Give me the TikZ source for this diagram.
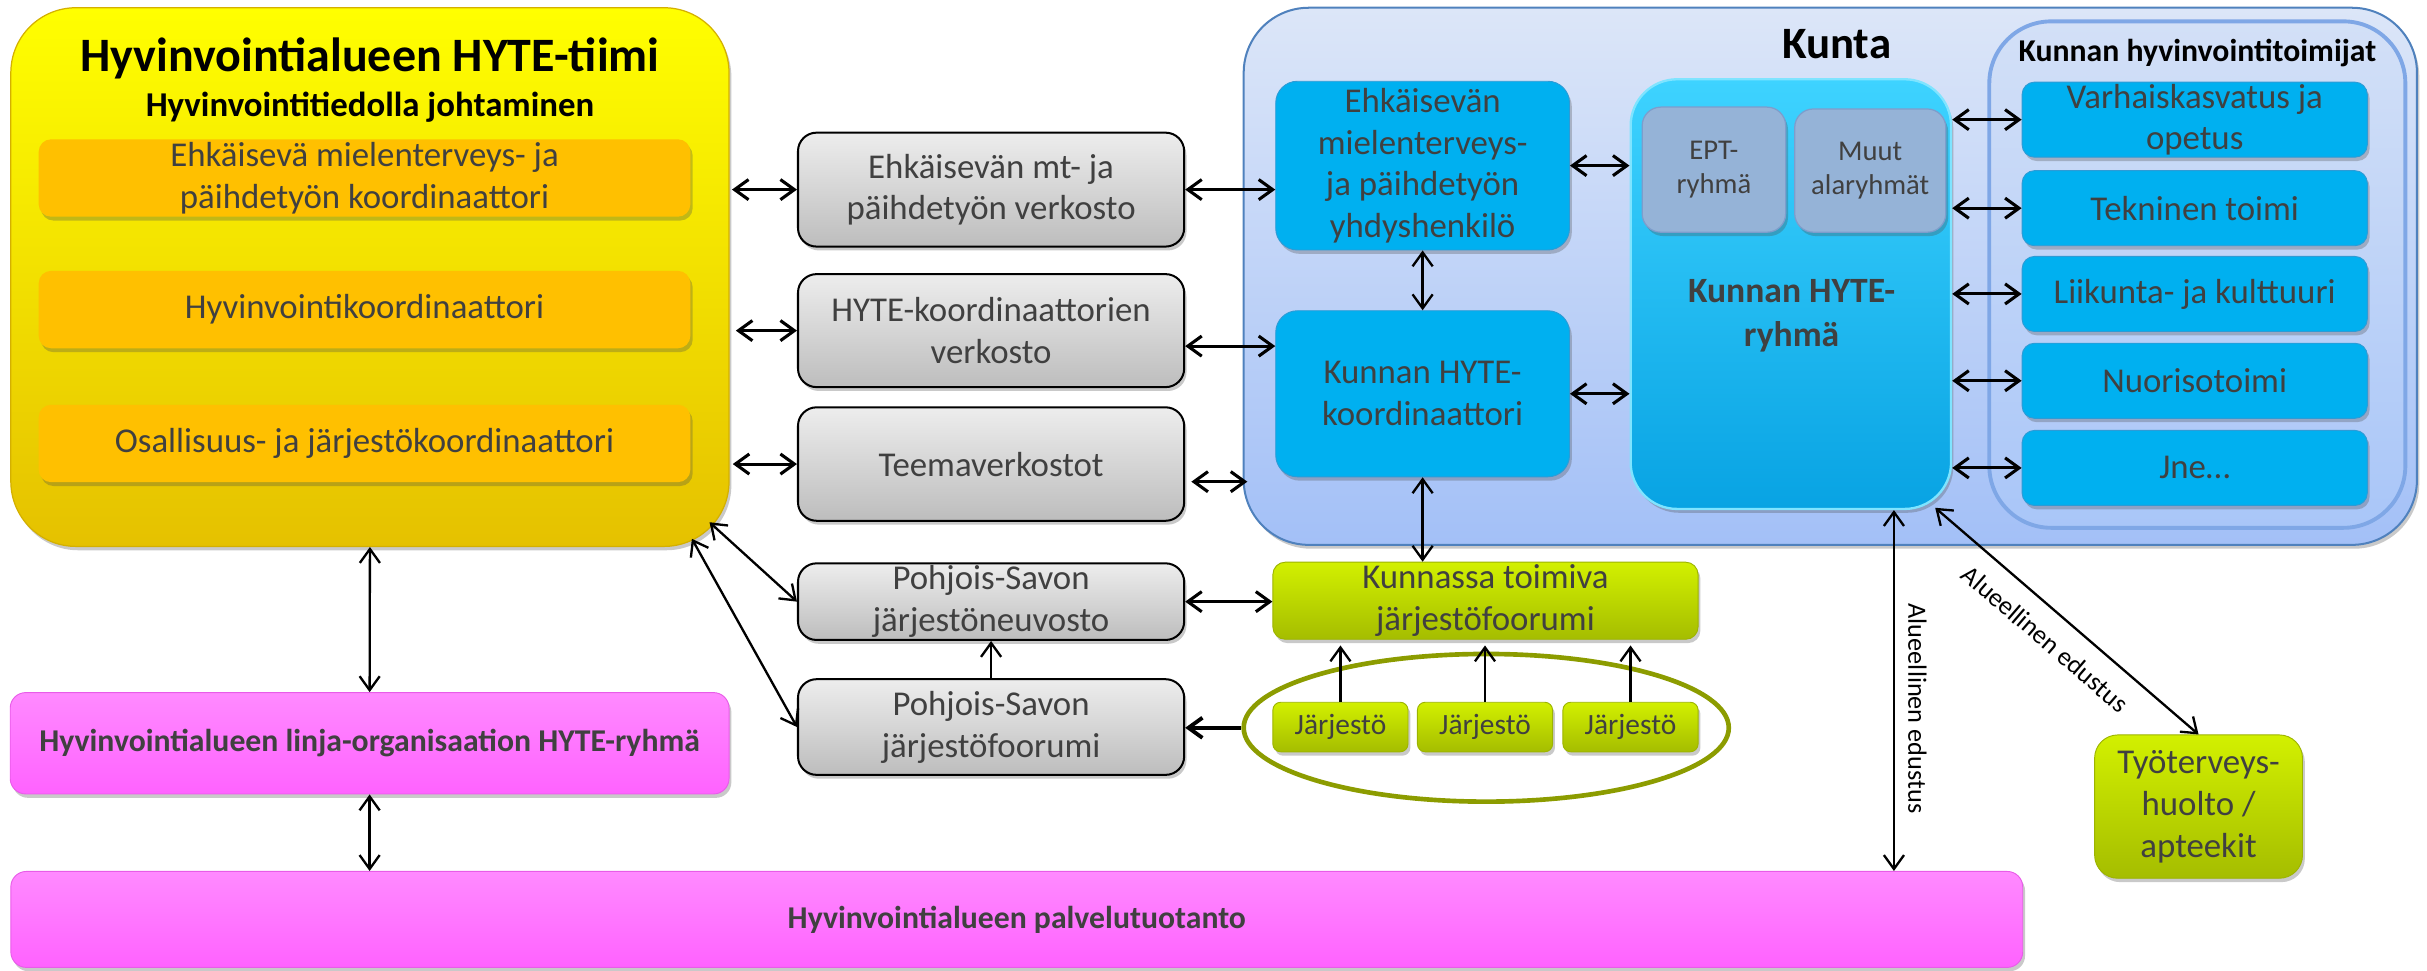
\documentclass[tikz,border=0pt]{standalone}
\usepackage{fontspec}
\setmainfont{Carlito}
\usetikzlibrary{arrows.meta,shadows,calc,shapes.geometric}
\definecolor{txt}{HTML}{404040}
\definecolor{yelT}{HTML}{FFFF00}
\definecolor{yelB}{HTML}{E5C100}
\definecolor{yelD}{HTML}{D4B000}
\definecolor{orng}{HTML}{FFC000}
\definecolor{grT}{HTML}{EDEDED}
\definecolor{grB}{HTML}{BDBDBD}
\definecolor{kuT}{HTML}{DCE6F8}
\definecolor{kuB}{HTML}{A3C0F7}
\definecolor{kuD}{HTML}{4F81BD}
\definecolor{toT}{HTML}{D3E0F7}
\definecolor{toB}{HTML}{A9C6F8}
\definecolor{toD}{HTML}{7FA7E6}
\definecolor{cyanb}{HTML}{00B0F0}
\definecolor{cyanD}{HTML}{2D9BD6}
\definecolor{hrT}{HTML}{3ED3FF}
\definecolor{hrB}{HTML}{08A3E3}
\definecolor{hrD}{HTML}{7FE4FF}
\definecolor{ept}{HTML}{95B3D7}
\definecolor{eptD}{HTML}{7D9DCC}
\definecolor{lgT}{HTML}{D2F000}
\definecolor{lgB}{HTML}{A5BD00}
\definecolor{lgD}{HTML}{9DB400}
\definecolor{olive}{HTML}{8C9C00}
\definecolor{pinkT}{HTML}{FF8AFF}
\definecolor{pinkB}{HTML}{FF62FF}
\definecolor{pinkD}{HTML}{E85CE8}
\begin{document}
\begin{tikzpicture}[x=1pt,y=-1pt,
  >={Straight Barb[length=9pt,width=13pt]},
  every node/.style={inner sep=0pt},
  bodyfont/.style={font=\fontsize{22.5}{27}\selectfont},
  shad/.style={drop shadow={shadow xshift=1.5pt,shadow yshift=-2.5pt,opacity=0.3,fill=black!70}},
  ybox/.style={rounded corners=42pt, top color=yelT, bottom color=yelB, draw=yelD, line width=0.8pt, shad},
  obox/.style={rounded corners=8pt, fill=orng, shad, bodyfont, text=txt, align=center, minimum width=421pt, minimum height=50pt},
  gbox/.style={rounded corners=12pt, top color=grT, bottom color=grB, draw=black, line width=1.3pt, shad, bodyfont, text=txt, align=center, minimum width=249.5pt},
  kbox/.style={rounded corners=42pt, top color=kuT, bottom color=kuB, draw=kuD, line width=1.3pt, shad},
  tbox/.style={rounded corners=40pt, top color=toT, bottom color=toB, draw=toD, line width=2.5pt},
  bbox/.style={rounded corners=14pt, fill=cyanb, draw=cyanD, line width=0.6pt, shad, bodyfont, text=txt, align=center},
  rbox/.style={rounded corners=8pt, fill=cyanb, draw=cyanD, line width=0.6pt, shad, bodyfont, text=txt, align=center, minimum width=223pt, minimum height=48.5pt},
  hbox/.style={rounded corners=30pt, top color=hrT, bottom color=hrB, draw=hrD, line width=1.5pt, shad},
  ebox/.style={rounded corners=12pt, fill=ept, draw=eptD, line width=0.8pt, shad, font=\fontsize{18.5}{22}\selectfont, text=txt, align=center},
  lbox/.style={rounded corners=8pt, top color=lgT, bottom color=lgB, draw=lgD, line width=0.6pt, shad, bodyfont, text=txt, align=center},
  jbox/.style={rounded corners=5pt, top color=lgT, bottom color=lgB, draw=lgD, line width=0.6pt, shad, font=\fontsize{19}{22}\selectfont, text=txt, minimum width=87.3pt, minimum height=32pt},
  pbox/.style={rounded corners=10pt, top color=pinkT, bottom color=pinkB, draw=pinkD, line width=0.6pt, shad, font=\fontsize{20.5}{24}\selectfont\bfseries, text=txt},
  lbl/.style={font=\fontsize{17}{20}\selectfont, text=black},
  arrA/.style={<->, line width=2pt},
  arrB/.style={<->, line width=1.5pt},
  arrC/.style={->, line width=1.5pt},
  arrD/.style={->, line width=2.5pt}
]
\useasboundingbox (0,0) rectangle (1568,627);

% ---- left yellow team ----
\node[ybox, minimum width=464pt, minimum height=348pt] (yb) at (239,179) {};
\node[font=\fontsize{31}{36}\selectfont\bfseries, anchor=base] (yt) at (239,46) {Hyvinvointialueen HYTE-tiimi};
\node[font=\fontsize{22.5}{27}\selectfont\bfseries, anchor=base] (ys) at (239,75) {Hyvinvointitiedolla johtaminen};
\node[obox] (o1) at (235.5,115) {Ehkäisevä mielenterveys- ja\\päihdetyön koordinaattori};
\node[obox] (o2) at (235.5,200) {Hyvinvointikoordinaattori};
\node[obox] (o3) at (235.5,286.5) {Osallisuus- ja järjestökoordinaattori};

% ---- grey networks ----
\node[gbox, minimum height=73.6pt] (g1) at (640.3,122.5) {Ehkäisevän mt- ja\\päihdetyön verkosto};
\node[gbox, minimum height=73pt] (g2) at (640.3,213.6) {HYTE-koordinaattorien\\verkosto};
\node[gbox, minimum height=73.3pt] (g3) at (640.3,299.8) {Teemaverkostot};
\node[gbox, minimum height=49.5pt] (g4) at (640.3,388.7) {Pohjois-Savon\\järjestöneuvosto};
\node[gbox, minimum height=61.8pt] (g5) at (640.3,469.7) {Pohjois-Savon\\järjestöfoorumi};

% ---- Kunta ----
\node[kbox, minimum width=758pt, minimum height=347pt] (kb) at (1182.5,178.5) {};
\node[font=\fontsize{29}{34}\selectfont\bfseries, anchor=base] (kt) at (1186.6,38) {Kunta};
\node[tbox, minimum width=268.8pt, minimum height=327.2pt] (tb) at (1419.6,177.4) {};
\node[font=\fontsize{20.5}{24}\selectfont\bfseries, anchor=base] (tt) at (1419.6,40) {Kunnan hyvinvointitoimijat};
\node[bbox, minimum width=189.8pt, minimum height=109pt] (b1) at (919.1,107) {Ehkäisevän\\mielenterveys-\\ja päihdetyön\\yhdyshenkilö};
\node[bbox, minimum width=189.8pt, minimum height=107.3pt] (b2) at (919.1,254.4) {Kunnan HYTE-\\koordinaattori};
\node[hbox, minimum width=207pt, minimum height=277.6pt] (hr) at (1157,190) {};
\node[font=\fontsize{23}{28}\selectfont\bfseries, text=txt, align=center] (hrt) at (1157.5,204) {Kunnan HYTE-\\ryhmä};
\node[ebox, minimum width=92.7pt, minimum height=80.8pt] (e1) at (1107.3,109.6) {EPT-\\ryhmä};
\node[ebox, minimum width=97.6pt, minimum height=79.6pt] (e2) at (1208.3,110.2) {Muut\\alaryhmät};
\node[rbox] (r1) at (1417.9,77.3) {Varhaiskasvatus ja\\opetus};
\node[rbox] (r2) at (1417.9,134.5) {Tekninen toimi};
\node[rbox] (r3) at (1417.9,189.9) {Liikunta- ja kulttuuri};
\node[rbox] (r4) at (1417.9,246) {Nuorisotoimi};
\node[rbox] (r5) at (1417.9,302.3) {Jne…};

% ---- organisations ----
\node[lbox, minimum width=274.7pt, minimum height=49.8pt] (kf) at (959.7,388.1) {Kunnassa toimiva\\järjestöfoorumi};
\node[ellipse, draw=olive, line width=3pt, minimum width=313.4pt, minimum height=95.4pt] (el) at (960.2,470.2) {};
\node[jbox] (j1) at (866,469.7) {Järjestö};
\node[jbox] (j2) at (959.4,469.7) {Järjestö};
\node[jbox] (j3) at (1053.4,469.7) {Järjestö};
\node[lbox, rounded corners=15pt, minimum width=134.3pt, minimum height=92.6pt] (ty) at (1420.4,521.1) {Työterveys-\\huolto /\\apteekit};

% ---- pink ----
\node[pbox, minimum width=464.4pt, minimum height=65.5pt] (p1) at (238.8,480.2) {Hyvinvointialueen linja-organisaation HYTE-ryhmä};
\node[pbox, minimum width=1299.8pt, minimum height=62pt] (p2) at (656.9,594) {Hyvinvointialueen palvelutuotanto};

% ---- connectors ----
\draw[arrA] ([xshift=1.5pt]yb.east |- g1.west) -- (g1.west);
\draw[arrA] ([xshift=4pt]yb.east |- g2.west) -- (g2.west);
\draw[arrA] ([xshift=2pt]yb.east |- g3.west) -- (g3.west);
\draw[arrA] (g1.east) -- (g1.east -| b1.west);
\draw[arrA] ($(g2.east)+(0,10)$) -- ($(g2.east -| b2.west)+(0,10)$);
\draw[arrA] ($(g3.east)+(4,11.4)$) -- ($(g3.east -| kb.west)+(3,11.4)$);
\draw[arrB] (b1.south) -- (b2.north);
\draw[arrB] (b2.south) -- (b2.south |- kf.north);
\draw[arrA] (b1.east) -- (b1.east -| hr.west);
\draw[arrA] (b2.east) -- (b2.east -| hr.west);
\draw[arrA] (hr.east |- r1.west) -- (r1.west);
\draw[arrA] (hr.east |- r2.west) -- (r2.west);
\draw[arrA] (hr.east |- r3.west) -- (r3.west);
\draw[arrA] (hr.east |- r4.west) -- (r4.west);
\draw[arrA] (hr.east |- r5.west) -- (r5.west);
\draw[arrB] ([xshift=66.6pt]hr.south) -- ([xshift=66.6pt]hr.south |- p2.north)
  node[pos=0.55, xshift=8.4pt, rotate=-90, anchor=south, lbl] {Alueellinen edustus};
\draw[arrB] ($(hr.south east)+(-11,-1.5)$) -- (ty.north)
  node[pos=0.486, sloped, below=11pt, lbl] {Alueellinen edustus};
\draw[arrA] (g4.east) -- (g4.east -| kf.west);
\draw[arrC] (g5.north) -- (g4.south);
\draw[arrD] (el.west) -- (el.west -| g5.east);
\draw[arrC] (j1.north) -- ([yshift=-3.7pt]j1.north |- kf.south);
\draw[arrC] (j2.north) -- ([yshift=-3.7pt]j2.north |- kf.south);
\draw[arrC] (j3.north) -- ([yshift=-3.7pt]j3.north |- kf.south);
\draw[arrB] ($(yb.south east)+(-13,-16)$) -- (g4.west);
\draw[arrB] ($(yb.south east)+(-24.4,-5.3)$) -- (g5.west);
\draw[arrB] (yb.south) -- (p1.north);
\draw[arrB] (p1.south) -- (p1.south |- p2.north);
\end{tikzpicture}
\end{document}
